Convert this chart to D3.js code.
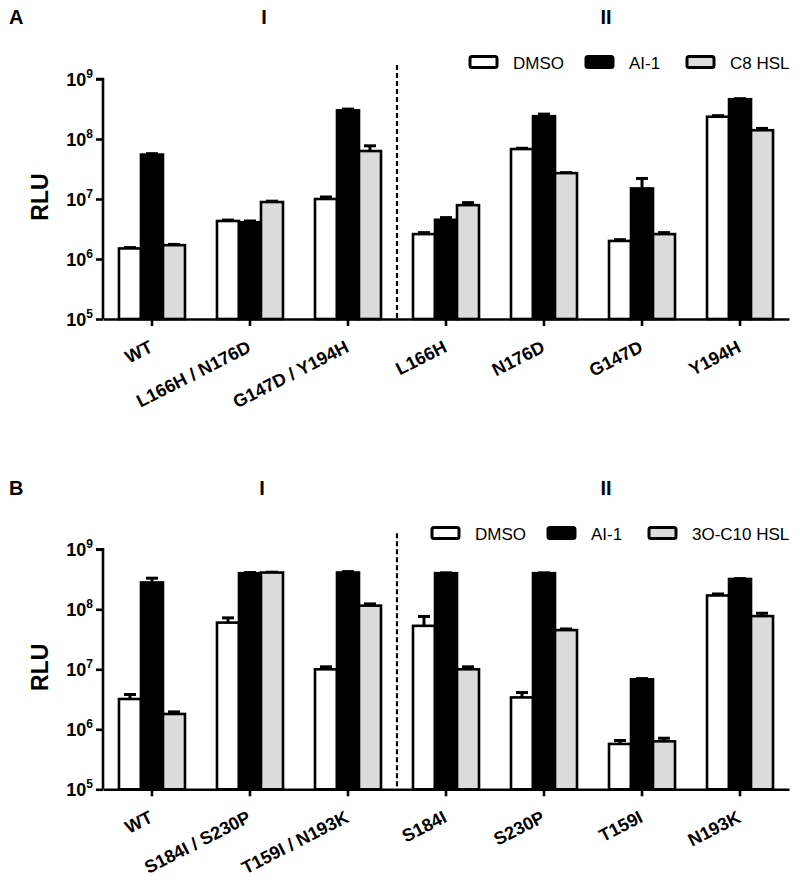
<!DOCTYPE html>
<html>
<head>
<meta charset="utf-8">
<script src="https://cdn.jsdelivr.net/npm/d3@7"></script>
<style>
  html, body { margin: 0; padding: 0; background: #fff; }
  svg { display: block; }
  text { font-family: "Liberation Sans", Arial, sans-serif; }
</style>
</head>
<body>
<svg id="chart" width="800" height="883"></svg>
<script>
// ---------- DATA ----------
const categoriesA = ["WT", "L166H / N176D", "G147D / Y194H", "L166H", "N176D", "G147D", "Y194H"];
const seriesNamesA = ["DMSO", "AI-1", "C8 HSL"];
const dmsoA     = [1.5e6, 4.3e6, 1.0e7, 2.6e6, 6.8e7, 2.0e6, 2.35e8];
const dmsoErrA  = [0.05e6, 0.15e6, 0.8e6, 0.15e6, 2e6, 0.1e6, 0.1e8];
const ai1A      = [5.5e7, 4.1e6, 3.0e8, 4.5e6, 2.4e8, 1.5e7, 4.6e8];
const ai1ErrA   = [2e6, 0.2e6, 0.15e8, 0.4e6, 0.2e8, 0.7e7, 0.1e8];
const hslA      = [1.7e6, 8.9e6, 6.3e7, 7.9e6, 2.7e7, 2.6e6, 1.4e8];
const hslErrA   = [0.05e6, 0.3e6, 1.4e7, 0.8e6, 0.5e6, 0.15e6, 0.1e8];

const categoriesB = ["WT", "S184I / S230P", "T159I / N193K", "S184I", "S230P", "T159I", "N193K"];
const seriesNamesB = ["DMSO", "AI-1", "3O-C10 HSL"];
const dmsoB     = [3.2e6, 6.0e7, 1.0e7, 5.3e7, 3.4e6, 5.7e5, 1.7e8];
const dmsoErrB  = [0.6e6, 1.2e7, 1e6, 2.3e7, 0.7e6, 0.8e5, 0.1e8];
const ai1B      = [2.8e8, 4.0e8, 4.1e8, 4.0e8, 4.0e8, 6.8e6, 3.2e8];
const ai1ErrB   = [0.5e8, 0.1e8, 0.15e8, 0.05e8, 0.05e8, 0.2e6, 0.05e8];
const hslB      = [1.8e6, 4.1e8, 1.15e8, 1.0e7, 4.5e7, 6.3e5, 7.7e7];
const hslErrB   = [0.15e6, 0.05e8, 0.08e8, 1e6, 0.2e7, 0.8e5, 0.9e7];

const yTickValues = [1e5, 1e6, 1e7, 1e8, 1e9];
const yTickExponents = ["5", "6", "7", "8", "9"];
const groupLabels = ["I", "II"];
const fills = ["#ffffff", "#000000", "#dcdcdc"];

// ---------- DRAW ----------
const svg = d3.select("#chart");

function drawPanel(cfg) {
  const g = svg.append("g");
  const x = d3.scaleBand().domain(cfg.categories).range([103, 789])
    .paddingInner(0.3265).paddingOuter(0.163);
  const sub = d3.scaleBand().domain(cfg.seriesNames).range([0, x.bandwidth()]);
  const y = d3.scaleLog().domain([1e5, 1e9]).range([cfg.bottom, cfg.bottom - 240]);

  const series = cfg.seriesNames.map((name, si) => ({
    name, fill: fills[si],
    values: cfg.values[si], errs: cfg.errs[si]
  }));

  // error bars
  series.forEach((s) => {
    const eg = g.append("g");
    cfg.categories.forEach((c, i) => {
      const cx = x(c) + sub(s.name) + sub.bandwidth() / 2;
      const yv = y(s.values[i]);
      const ye = y(s.values[i] + s.errs[i]);
      eg.append("line").attr("x1", cx).attr("x2", cx).attr("y1", yv).attr("y2", ye)
        .attr("stroke", "#000").attr("stroke-width", 3);
      eg.append("line").attr("x1", cx - 6).attr("x2", cx + 6).attr("y1", ye).attr("y2", ye)
        .attr("stroke", "#000").attr("stroke-width", 3);
    });
  });

  // bars
  series.forEach((s) => {
    g.append("g").selectAll("rect").data(cfg.categories).join("rect")
      .attr("x", (c) => x(c) + sub(s.name))
      .attr("width", sub.bandwidth())
      .attr("y", (c, i) => y(s.values[i]))
      .attr("height", (c, i) => cfg.bottom - y(s.values[i]))
      .attr("fill", s.fill)
      .attr("stroke", "#000")
      .attr("stroke-width", 2.6);
  });

  // dashed separator
  const sepX = (x(cfg.categories[2]) + x.bandwidth() + x(cfg.categories[3])) / 2;
  g.append("line").attr("x1", sepX).attr("x2", sepX)
    .attr("y1", y(1e9) - cfg.sepTop).attr("y2", cfg.bottom)
    .attr("stroke", "#000").attr("stroke-width", 2.2).attr("stroke-dasharray", "5,3");

  // y axis
  const yAxis = d3.axisLeft(y).tickValues(yTickValues).tickSize(7).tickFormat(() => "");
  const ya = g.append("g").attr("transform", "translate(103,0)").call(yAxis);
  ya.select(".domain").attr("stroke-width", 2.6).attr("d", `M-7,${y(1e9)}H0V${cfg.bottom}`);
  ya.selectAll(".tick line").attr("stroke-width", 2.6);
  yTickValues.forEach((v, i) => {
    const t = g.append("text").attr("x", 93).attr("y", y(v) + 6.5)
      .attr("text-anchor", "end").attr("font-weight", "bold").attr("font-size", 18);
    t.append("tspan").text("10");
    t.append("tspan").attr("font-size", 12).attr("dy", -8).text(yTickExponents[i]);
  });

  // x axis
  const xAxis = d3.axisBottom(x).tickSize(7).tickSizeOuter(0).tickFormat(() => "");
  const xa = g.append("g").attr("transform", `translate(0,${cfg.bottom})`).call(xAxis);
  xa.select(".domain").attr("stroke-width", 2.6);
  xa.selectAll(".tick line").attr("stroke-width", 2.6);
  cfg.categories.forEach((c) => {
    const cx = x(c) + x.bandwidth() / 2 + 2;
    const cy = cfg.bottom + 32;
    g.append("text").attr("transform", `translate(${cx},${cy}) rotate(-27)`)
      .attr("text-anchor", "end").attr("font-weight", "bold").attr("font-size", 18)
      .text(c);
  });

  // RLU label
  g.append("text").attr("transform", `translate(48,${cfg.bottom - 122}) rotate(-90)`)
    .attr("text-anchor", "middle").attr("font-weight", "bold").attr("font-size", 23)
    .text("RLU");

  // panel letter & group labels
  g.append("text").attr("x", 9).attr("y", cfg.titleY).attr("font-weight", "bold")
    .attr("font-size", 20).text(cfg.letter);
  g.append("text").attr("x", cfg.group1X).attr("y", cfg.titleY).attr("text-anchor", "middle")
    .attr("font-weight", "bold").attr("font-size", 20).text(groupLabels[0]);
  g.append("text").attr("x", 606).attr("y", cfg.titleY).attr("text-anchor", "middle")
    .attr("font-weight", "bold").attr("font-size", 20).text(groupLabels[1]);

  // legend
  const lg = g.append("g");
  series.forEach((s, si) => {
    const bx = cfg.legendX[si];
    lg.append("rect").attr("x", bx).attr("y", cfg.legendY).attr("width", 27).attr("height", 11)
      .attr("rx", 2).attr("fill", s.fill).attr("stroke", "#000").attr("stroke-width", 3);
    lg.append("text").attr("x", bx + 43).attr("y", cfg.legendY + 12)
      .attr("font-size", 17).text(s.name);
  });
}

drawPanel({
  categories: categoriesA, seriesNames: seriesNamesA,
  values: [dmsoA, ai1A, hslA], errs: [dmsoErrA, ai1ErrA, hslErrA],
  bottom: 319, sepTop: 14, letter: "A", titleY: 24, group1X: 264,
  legendX: [470, 586, 687], legendY: 56.5
});
drawPanel({
  categories: categoriesB, seriesNames: seriesNamesB,
  values: [dmsoB, ai1B, hslB], errs: [dmsoErrB, ai1ErrB, hslErrB],
  bottom: 789.3, sepTop: 16, letter: "B", titleY: 495, group1X: 262,
  legendX: [432, 548, 649], legendY: 527.5
});
</script>
</body>
</html>
